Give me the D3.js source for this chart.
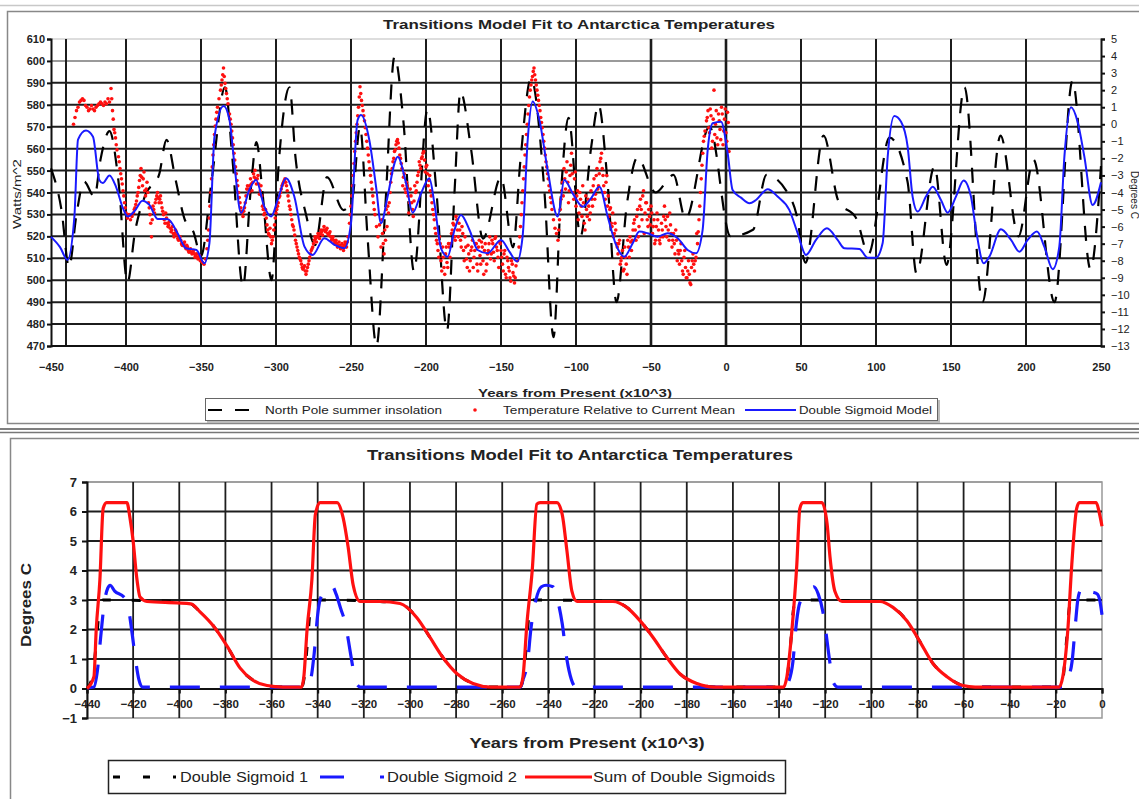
<!DOCTYPE html>
<html>
<head>
<meta charset="utf-8">
<script src="https://cdn.jsdelivr.net/npm/d3@7"></script>
<style>
  body { margin: 0; background: #fff; }
  svg { display: block; }
  text { font-family: "Liberation Sans", Arial, Helvetica, sans-serif; }
</style>
</head>
<body>
<svg id="chart" width="1139" height="799"></svg>
<script>
// ---------- top panel data ----------
const chartTitle = 'Transitions Model Fit to Antarctica Temperatures';
const topXTicks = [-450,-400,-350,-300,-250,-200,-150,-100,-50,0,50,100,150,200,250];
const topXGrid  = [-440,-400,-350,-300,-250,-200,-150,-100,-50,0,50,100,150,200];

// North Pole summer insolation (W/m^2)
const insolYears  = [-450,-443,-438,-433,-428,-421,-417,-411,-405,-399,-394,-387,-378,-373,-367,-361,-355,-350,-343,-334,-329,-322,-317,-313,-309,-303,-298,-291,-287,-280,-274,-266,-255,-249,-244,-239,-233,-227,-221,-215,-208,-199,-193,-186,-181,-177,-170,-162,-150,-142,-137,-130,-121,-115,-110,-105,-97,-90,-85,-79,-73,-66,-59,-47,-35,-27,-11,3,18,27,40,47,53,65,75,87,95,109,121,127,139,147,159,171,183,195,205,219,231,243,250];
const insolValues = [551,532,506,530,545,538,555,568,545,499,522,539,548,564,546,528,522,511,545,588,555,497,540,563,540,500,555,588,556,530,516,547,532,538,570,520,470,535,602,572,504,578,540,477,540,586,560,519,547,515,555,592,540,474,540,574,520,560,580,545,490,535,556,540,548,528,570,520,523,548,541,530,508,566,536,528,512,565,545,503,552,507,588,490,566,520,555,490,591,505,552];

// Temperature relative to current mean (deg C), one reading per kyr from -435
const tempFirstYear = -435;
const tempValues = [
  0.0,0.4,0.8,1.0,1.3,1.4,1.5,1.4,1.1,1.0,
  0.8,0.9,1.1,0.9,0.8,1.0,1.1,1.2,1.3,1.2,
  1.1,1.3,1.2,1.5,1.3,2.1,0.8,-0.3,-0.8,-1.5,
  -1.9,-2.6,-3.2,-3.9,-4.6,-5.2,-5.5,-5.3,-5.6,-5.4,
  -5.2,-4.9,-4.5,-4.0,-3.3,-2.6,-3.6,-2.8,-4.2,-3.4,
  -4.6,-5.3,-6.6,-4.8,-5.2,-4.4,-4.0,-4.6,-4.2,-4.9,
  -5.3,-5.8,-5.5,-6.0,-5.7,-6.3,-6.0,-6.6,-6.2,-6.5,
  -6.8,-6.6,-7.0,-7.1,-6.9,-7.3,-7.2,-7.5,-7.3,-7.6,
  -7.4,-7.8,-7.6,-7.9,-7.7,-8.0,-8.1,-8.2,-7.9,-7.3,
  -6.2,-4.8,-3.2,-1.8,-0.6,0.3,1.0,1.5,2.0,2.6,
  3.3,2.4,1.8,1.2,0.6,0.0,-0.8,-1.7,-2.5,-3.3,
  -4.0,-4.6,-5.1,-5.4,-4.9,-4.2,-3.6,-4.0,-3.2,-3.9,
  -2.9,-2.7,-3.5,-3.0,-4.1,-3.6,-4.8,-5.3,-5.0,-5.9,
  -6.4,-6.1,-7.0,-6.6,-5.9,-5.2,-4.8,-4.3,-4.0,-3.6,
  -3.4,-3.2,-3.6,-4.2,-4.8,-5.3,-5.9,-6.2,-6.8,-7.2,
  -7.6,-7.9,-8.2,-8.5,-8.3,-8.8,-8.4,-8.0,-7.6,-7.3,
  -7.0,-6.6,-6.9,-6.4,-6.7,-6.2,-6.5,-6.0,-6.3,-6.1,
  -6.5,-6.3,-6.8,-6.6,-7.0,-6.8,-7.2,-6.9,-7.3,-7.0,
  -7.4,-6.9,-7.2,-6.6,-5.8,-4.8,-3.6,-2.3,-1.0,0.0,
  1.0,2.2,1.4,0.8,0.2,-0.6,-1.4,-2.2,-3.0,-3.8,
  -4.6,-5.3,-6.0,-6.6,-5.9,-7.2,-6.4,-7.6,-6.8,-6.0,
  -5.2,-4.0,-2.9,-2.2,-1.6,-1.2,-0.9,-1.4,-2.0,-2.6,
  -3.1,-3.8,-3.4,-4.2,-4.6,-4.2,-5.0,-4.5,-4.0,-3.4,
  -2.8,-2.4,-2.0,-1.7,-2.1,-2.5,-2.9,-3.3,-3.9,-4.6,
  -5.3,-6.1,-6.8,-7.4,-6.6,-8.0,-7.2,-8.4,-7.6,-8.1,
  -7.0,-7.8,-6.4,-5.8,-6.6,-5.4,-6.2,-5.8,-6.8,-6.0,
  -7.4,-6.6,-7.9,-7.1,-8.6,-7.4,-6.8,-7.8,-7.0,-8.2,
  -7.2,-7.7,-6.9,-8.0,-7.4,-8.6,-7.6,-7.0,-7.9,-6.8,
  -7.5,-6.7,-7.2,-7.8,-6.9,-7.4,-8.2,-7.6,-8.8,-7.8,
  -8.4,-9.0,-8.0,-8.7,-9.3,-8.3,-8.0,-7.2,-6.0,-4.6,
  -3.2,-1.8,-0.6,0.6,1.6,2.3,2.8,3.3,2.6,2.0,
  1.4,0.8,0.1,-0.6,-1.4,-2.2,-2.9,-3.6,-4.3,-5.0,
  -5.6,-6.1,-6.4,-6.8,-5.6,-4.4,-3.4,-2.6,-3.8,-2.2,
  -4.6,-3.0,-1.7,-4.0,-3.2,-4.8,-3.9,-5.2,-4.4,-5.4,
  -4.6,-6.2,-5.0,-4.4,-5.6,-3.9,-4.8,-3.2,-4.1,-2.6,
  -3.6,-2.2,-1.7,-3.0,-4.0,-3.4,-4.8,-5.4,-4.9,-6.0,
  -6.6,-5.8,-7.0,-7.6,-6.8,-8.0,-7.4,-8.5,-7.8,-8.8,
  -7.2,-6.6,-7.4,-6.2,-5.6,-6.8,-5.0,-6.0,-4.4,-5.6,
  -3.9,-5.2,-4.6,-6.0,-5.4,-4.8,-6.4,-5.6,-6.8,-5.2,
  -6.2,-7.0,-5.8,-6.6,-4.8,-6.0,-5.4,-6.8,-5.9,-7.2,
  -6.4,-7.6,-6.8,-7.4,-8.2,-7.0,-8.6,-7.8,-8.4,-9.0,
  -8.0,-9.3,-8.4,-7.6,-8.6,-7.8,-7.0,-5.6,-4.0,-2.4,
  -1.0,-0.4,0.2,0.8,-0.5,0.5,-1.0,2.0,0.0,-0.8,
  0.6,-0.3,1.0,-1.2,0.3,-0.5,0.7,-1.6
];
// in-between readings (half-kyr) where the ice-core record is densest
const halfAStart = -394.5;
const tempHalfA = [
  -5.0,-4.7,-4.2,-3.7,-3.0,-3.1,-3.2,-3.9,-3.8,-4.0,
  -4.9,-5.8,-5.6,-5.0,-4.6,-4.2,-4.3,-4.4,-4.6,-5.1,
  -5.6,-5.2,-5.8,-5.9,-6.1,-6.2,-6.4,-6.4,-6.3,-6.7,
  -6.7,-6.8,-7.1,-7.0,-7.2,-7.1,-7.4,-7.4,-7.5,-7.5,
  -7.6,-7.7,-7.8,-7.8,-8.0
];
const halfBStart = -324.5;
const tempHalfB = [
  -4.3,-4.9,-5.2,-5.1,-4.6,-3.8,-3.8,-3.6,-3.5,-3.4,
  -3.1,-3.2,-3.2,-3.5,-3.9,-4.2,-5.0,-5.2,-5.5,-6.2,
  -6.5,-6.6,-6.8,-6.2,-5.5,-5.0,-4.6,-4.2,-3.8,-3.5,
  -3.3,-3.4,-3.9,-4.5,-5.0,-5.6,-6.0,-6.5,-7.0,-7.4,
  -7.8,-8.0,-8.4,-8.4,-8.6,-8.6,-8.2,-7.8,-7.4,-7.2,
  -6.8,-6.7,-6.6,-6.5,-6.4,-6.3,-6.2,-6.2,-6.2,-6.4,
  -6.4,-6.6,-6.7,-6.8,-6.9,-7.0,-7.1,-7.1,-7.2,-7.2,
  -7.1,-7.0,-6.9
];
const halfCStart = -229.5;
const tempHalfC = [
  -5.6,-7.0,-6.2,-5.0,-4.8,-4.6,-3.4,-2.6,-2.0,-1.5,
  -1.0,-1.1,-1.8,-2.3,-3.6,-2.9,-4.0,-3.6,-5.2,-3.8,
  -4.6,-5.4,-3.6,-3.9,-3.0,-2.2,-2.6,-1.9,-1.6,-2.8,
  -2.4,-3.6,-3.0,-4.2,-5.0,-5.6,-6.4,-7.0,-7.8,-7.0,
  -8.6,-7.8,-8.8,-7.2,-8.4,-7.2,-7.0,-6.2,-5.9,-6.8,
  -5.6,-6.6,-6.2,-7.2,-6.4,-8.0,-7.2,-8.4,-7.6,-8.0,
  -7.2,-8.4,-7.4,-7.0,-8.6,-6.8,-8.2,-7.2,-8.8,-7.0,
  -8.2,-7.4,-6.6,-7.6,-7.0,-8.0,-6.6,-7.4,-8.4,-7.0,
  -7.8,-8.6,-7.4,-9.0,-8.0,-8.6,-9.2,-8.2,-8.9,-9.0
];
const halfDStart = -111.5;
const tempHalfD = [
  -6.2,-5.0,-3.9,-4.2,-3.2,-2.8,-3.4,-3.9,-2.4,-2.9,
  -4.4,-2.8,-4.2,-5.6,-4.0,-4.8,-3.6,-5.8,-4.2,-5.4,
  -4.8,-5.2,-4.4,-3.6,-4.4,-3.0,-3.8,-2.9,-2.0,-2.6,
  -3.6,-4.4,-3.0,-4.2,-5.0,-5.8,-5.2,-6.4,-6.2,-7.2,
  -7.0,-8.2,-7.8,-8.6,-7.2,-8.2,-6.8,-7.8,-6.9,-6.8,
  -5.8,-6.2,-5.4,-6.6,-4.8,-5.0,-4.2,-6.4,-4.6,-5.6,
  -5.0,-5.9,-5.2,-6.0,-7.0,-6.0,-5.6,-6.8,-6.6,-6.2,
  -5.4,-5.6,-6.6,-6.2,-5.2,-6.4,-6.8,-7.0,-6.2,-8.0,
  -7.6,-7.4,-8.0,-8.8,-7.4,-9.0,-8.6,-8.8,-9.4,-8.0,
  -8.2,-8.0,-6.4
];
// extra readings on steep flanks and in the dense cluster near the present
const tempExtra = [
  [-409.5,1.5],[-408.5,0.3],[-407.5,-0.5],[-406.5,-1.2],[-404.5,-2.2],[-403.5,-2.9],[-402.5,-3.5],[-401.5,-4.2],[-400.5,-4.9],
  [-345.5,-6.8],[-344.5,-5.5],[-343.5,-4.0],[-342.5,-2.5],[-341.5,-1.2],[-340.5,-0.1],[-339.5,0.7],[-336.5,2.3],[-335.5,2.9],
  [-334.5,2.8],[-333.5,2.1],[-332.5,1.5],[-330.5,0.3],[-329.5,-0.4],[-328.5,-1.2],[-327.5,-2.1],[-326.5,-2.9],[-325.5,-3.6],
  [-250.5,-5.3],[-249.5,-4.2],[-248.5,-3.0],[-247.5,-1.6],[-246.5,-0.5],[-245.5,0.5],[-244.5,1.6],[-243.5,1.8],[-242.5,1.1],
  [-241.5,0.5],[-240.5,-0.2],[-239.5,-1.0],[-238.5,-1.8],[-237.5,-2.6],[-236.5,-3.4],[-235.5,-4.2],[-234.5,-5.0],
  [-137.5,-6.6],[-136.5,-5.3],[-135.5,-3.9],[-134.5,-2.5],[-133.5,-1.2],[-132.5,0.0],[-131.5,1.1],[-130.5,2.0],[-129.5,2.6],
  [-128.5,3.1],[-127.5,2.9],[-126.5,2.3],[-125.5,1.7],[-124.5,1.1],[-123.5,0.4],[-122.5,-0.2],[-121.5,-1.0],[-120.5,-1.8],
  [-119.5,-2.5],[-118.5,-3.2],[-117.5,-3.9],[-116.5,-4.6],
  [-18.5,-6.3],[-17.5,-4.8],[-16.5,-3.2],[-15.5,-1.7],[-14.5,-0.7],
  [-12.5,0.4],[-11.5,-0.2],[-10.5,0.9],[-9.5,-1.4],[-8.5,0.3],[-7.5,-0.6],[-6.5,0.8],[-5.5,-1.2],[-4.5,0.2],
  [-3.5,-0.9],[-2.5,0.6],[-1.5,-0.4],[-0.5,0.9],[0.5,-1.0],[1.5,0.1]
];

// Double sigmoid model (deg C)
const modelYears = [-450,-444,-439,-434.4,-432,-426.7,-422,-417.8,-415.5,-411,-406.7,-402,-398.9,-394.4,-389,-384.4,-378.9,-372,-365.6,-360,-353,-347.8,-344.4,-341,-334.9,-331,-327.8,-323.3,-317.8,-313.3,-307.8,-303.3,-298.9,-293.3,-287.8,-281,-275.6,-267.8,-261,-254.4,-250,-245.6,-243.3,-237.8,-233.3,-230,-225.6,-221,-218.9,-213.3,-208.9,-203.3,-197.8,-194.4,-190,-185.6,-181,-176.7,-171,-165.6,-158.9,-150,-144.4,-139.3,-135.6,-132.2,-128.9,-124.4,-118.9,-112.2,-107.8,-102.2,-95.6,-90,-84.4,-78.9,-73.3,-67.8,-62.2,-57.8,-52.2,-45.6,-38.9,-32.2,-25.6,-20,-15.6,-12.2,-8.9,-3.3,1.1,4.4,10,15.6,20,27.8,34.4,42.2,47.8,53.3,60,67.3,74.4,78.9,88.9,94.4,100,104.4,107.8,112.2,116.7,121.1,124.4,127.8,133.3,137.8,143.3,147.8,153.3,158.4,163.3,166.7,171.8,175.6,183.3,190,195.6,201.1,207.3,212.2,217.8,222.2,225.6,230,234.4,238.9,244.4,250];
const modelTemps = [-6.6,-7.2,-7.95,-5.4,-0.9,-0.37,-0.73,-3.27,-3.45,-3.0,-3.66,-4.93,-5.4,-5.1,-4.48,-4.73,-5.55,-5.57,-6.39,-7.27,-7.37,-8.15,-6.98,-0.73,1.07,0.25,-2.29,-5.2,-3.85,-3.27,-4.83,-5.41,-4.44,-3.17,-4.24,-7.17,-7.66,-6.68,-7.07,-7.27,-5.8,0.25,0.55,-0.92,-3.66,-5.8,-4.24,-2.29,-1.9,-3.46,-5.18,-4.05,-3.17,-4.63,-7.27,-7.76,-6.2,-5.32,-6.2,-7.37,-7.56,-6.78,-7.47,-8.05,-6.59,-0.92,1.33,0.25,-2.68,-5.41,-3.27,-4.05,-4.83,-4.34,-3.66,-5.41,-7.07,-7.76,-6.98,-6.29,-6.39,-6.59,-6.39,-6.68,-7.37,-7.56,-6.2,-1.5,0.06,0.15,-1.7,-3.85,-4.3,-4.63,-4.44,-3.81,-4.24,-5.02,-6.39,-7.66,-6.78,-6.1,-6.78,-7.27,-7.31,-7.82,-7.82,-6.98,-1.9,0.49,0.15,-1.31,-4.24,-5.12,-4.24,-3.66,-4.44,-5.18,-4.24,-3.3,-4.24,-6.2,-8.15,-7.76,-6.16,-6.78,-7.47,-6.78,-6.29,-7.17,-8.5,-7.17,-1.9,1.0,0.15,-1.9,-4.73,-3.4];

const topLegend = ['North Pole summer insolation', 'Temperature Relative to Current Mean', 'Double Sigmoid Model'];

// ---------- bottom panel data ----------
const botXTicks = [-440,-420,-400,-380,-360,-340,-320,-300,-280,-260,-240,-220,-200,-180,-160,-140,-120,-100,-80,-60,-40,-20,0];
const botYTicks = [-1,0,1,2,3,4,5,6,7];

const ds1Years  = [-440,-438,-436,-434.5,-433,-401,-395,-391,-385,-379,-373.7,-368,-362,-355,-347,-346,-344.5,-343,-341.5,-313,-304.3,-297,-291.3,-285.7,-279.6,-272.7,-265,-252.3,-251,-249.5,-248,-246.5,-212,-206,-200.3,-194.6,-188.6,-183,-175.6,-168,-138,-136.6,-135,-133.5,-132,-96.3,-90.6,-84.6,-79,-73.3,-67.2,-60.3,-55,-18.6,-17,-15.5,-14,-12.5,0];
const ds1Values = [0,0.3,1.5,2.8,3.0,2.95,2.87,2.6,2.1,1.4,0.7,0.28,0.1,0.05,0.05,0.3,1.5,2.8,3.0,2.95,2.88,2.4,1.73,1.05,0.5,0.17,0.05,0.05,0.3,1.5,2.8,3.0,2.95,2.75,2.3,1.73,1.05,0.5,0.17,0.05,0.05,0.3,1.5,2.8,3.0,2.95,2.75,2.3,1.6,0.85,0.4,0.1,0.05,0.05,0.3,1.5,2.8,3.0,3.0];

const ds2Years  = [-440,-437,-435.5,-434,-432.5,-431,-430,-428,-424,-422.5,-420.5,-419,-417.5,-416,-344,-343,-341.5,-340,-339,-336,-334,-332,-330,-328,-326,-324.5,-323,-321.5,-252,-251,-249,-247.6,-245.4,-243,-241,-238,-236,-234,-232,-230,-228,-137,-136,-134,-132.5,-131,-128,-125,-123,-121,-119.5,-118,-116.5,-114.5,-16,-15,-13,-11.5,-10.5,-9,-7.5,-5,-2,-1,0];
const ds2Values = [0.02,0.05,0.6,1.8,2.9,3.4,3.5,3.3,3.1,2.9,1.9,1.0,0.3,0.05,0.05,0.3,1.2,2.5,3.0,3.4,3.5,3.2,2.7,2.2,1.3,0.6,0.15,0.05,0.05,0.3,0.9,2.0,3.0,3.45,3.5,3.45,3.0,2.2,1.0,0.3,0.05,0.05,0.2,0.9,2.2,2.9,3.2,3.45,3.2,2.6,1.8,0.9,0.2,0.05,0.05,0.3,0.9,2.2,3.0,3.4,3.5,3.3,3.2,3.0,2.5];

const sumYears  = [-440,-437,-436,-434.4,-433,-431.5,-422.7,-421.4,-420,-418.5,-417,-414,-401,-395,-391,-385,-379,-373.7,-368,-362,-355,-347,-346,-344.6,-342.5,-341,-339,-331.6,-329,-326.8,-324.6,-321.6,-313,-304.3,-297,-291.3,-285.7,-279.6,-272.7,-265,-252.3,-251,-249.3,-247,-245,-243.6,-236.3,-234,-232,-229.8,-227.6,-212,-206,-200.3,-194.6,-188.6,-183,-175.6,-168,-138,-136.6,-134.4,-132.3,-131,-129.7,-121.4,-119.2,-117.9,-115.8,-112.7,-96.3,-90.6,-84.6,-79,-73.3,-67.2,-60.3,-55,-18.6,-17,-14.8,-13.1,-11,-9.8,-2.5,-1.3,0];
const sumValues = [0,0.4,2.0,3.7,6.1,6.3,6.3,5.8,5.0,3.8,3.1,2.95,2.9,2.87,2.6,2.1,1.4,0.7,0.28,0.1,0.05,0.05,0.4,2.0,3.7,5.9,6.3,6.3,5.8,4.8,3.5,2.95,2.95,2.88,2.4,1.73,1.05,0.5,0.17,0.05,0.05,0.4,2.2,4.0,6.25,6.3,6.3,5.9,4.7,3.3,2.95,2.95,2.75,2.3,1.73,1.05,0.5,0.17,0.05,0.05,0.4,2.0,4.2,6.1,6.3,6.3,5.6,4.45,3.3,2.95,2.95,2.75,2.3,1.6,0.85,0.4,0.1,0.05,0.05,0.4,2.0,4.2,6.1,6.3,6.3,6.0,5.5];

const botLegend = ['Double Sigmoid 1', 'Double Sigmoid 2', 'Sum of Double Sigmoids'];

// ---------- drawing ----------
const svg = d3.select('#chart');
const zip = (xs, ys) => xs.map((x, i) => [x, ys[i]]);
const fromStart = (start, vals) => vals.map((t, i) => [start + i, t]);
const fit = (sel, len) => sel.attr('textLength', len).attr('lengthAdjust', 'spacingAndGlyphs');

// outer frames
svg.append('line').attr('x1', 0).attr('x2', 1139).attr('y1', 5.5).attr('y2', 5.5).attr('stroke', '#c8c8c8').attr('stroke-width', 1.5);
svg.append('rect').attr('x', 7.5).attr('y', 11.5).attr('width', 1150).attr('height', 412)
  .attr('fill', '#fff').attr('stroke', '#888').attr('stroke-width', 1.5);
svg.append('line').attr('x1', 0).attr('x2', 1139).attr('y1', 429).attr('y2', 429).attr('stroke', '#555').attr('stroke-width', 1.5);
svg.append('line').attr('x1', 0).attr('x2', 1139).attr('y1', 432.5).attr('y2', 432.5).attr('stroke', '#777').attr('stroke-width', 1.5);
svg.append('rect').attr('x', 10.5).attr('y', 438.5).attr('width', 1150).attr('height', 400)
  .attr('fill', '#fff').attr('stroke', '#888').attr('stroke-width', 1.5);

// ===== top panel =====
const xT  = d3.scaleLinear().domain([-450, 250]).range([51, 1101]);
const yW  = d3.scaleLinear().domain([470, 610]).range([346, 39]);
const yC  = d3.scaleLinear().domain([-13, 5]).range([346, 39]);
const upper = svg.append('g');

upper.selectAll('line.hgrid').data(d3.range(480, 611, 10)).join('line')
  .attr('x1', 51).attr('x2', 1101).attr('y1', d => yW(d)).attr('y2', d => yW(d))
  .attr('stroke', d => d === 600 ? '#9a9a9a' : d === 610 ? '#bbb' : '#1c1c1c')
  .attr('stroke-width', d => d === 610 ? 1 : 2);
upper.selectAll('line.vgrid').data(topXGrid).join('line')
  .attr('x1', d => xT(d)).attr('x2', d => xT(d)).attr('y1', 39).attr('y2', 346)
  .attr('stroke', '#1c1c1c').attr('stroke-width', d => (d === 0 || d === -50) ? 2.6 : 2);
upper.append('line').attr('x1', 51).attr('x2', 1101).attr('y1', 346).attr('y2', 346).attr('stroke', '#111').attr('stroke-width', 2);

const axL = upper.append('g').attr('transform', 'translate(51,0)')
  .call(d3.axisLeft(yW).tickValues(d3.range(470, 611, 10)).tickSize(4).tickPadding(2));
const axR = upper.append('g').attr('transform', 'translate(1101,0)')
  .call(d3.axisRight(yC).tickValues(d3.range(-13, 6, 1)).tickSize(4).tickPadding(6));
const axB = upper.append('g').attr('transform', 'translate(0,346)')
  .call(d3.axisBottom(xT).tickValues(topXTicks).tickSize(0).tickPadding(17));
axB.select('.domain').remove();
[axL, axR].forEach(a => {
  a.select('.domain').attr('stroke', '#111').attr('stroke-width', 2);
  a.selectAll('.tick line').attr('stroke', '#111').attr('stroke-width', 2);
});
[axL, axR, axB].forEach(a => a.selectAll('text')
  .attr('font-size', 11).attr('font-weight', 'bold').attr('fill', '#222')
  .style('font-family', '"Liberation Sans", Arial, sans-serif'));
axR.selectAll('text').attr('font-weight', 'normal');

// insolation (left axis)
upper.append('path').datum(zip(insolYears, insolValues))
  .attr('d', d3.line().x(d => xT(d[0])).y(d => yW(d[1])).curve(d3.curveMonotoneX))
  .attr('fill', 'none').attr('stroke', '#000').attr('stroke-width', 2.2).attr('stroke-dasharray', '15,12');

// temperature points (right axis)
const tempPts = fromStart(tempFirstYear, tempValues)
  .concat(fromStart(halfAStart, tempHalfA), fromStart(halfBStart, tempHalfB),
          fromStart(halfCStart, tempHalfC), fromStart(halfDStart, tempHalfD), tempExtra);
upper.selectAll('circle.temp').data(tempPts).join('circle')
  .attr('cx', d => xT(d[0])).attr('cy', d => yC(d[1])).attr('r', 1.8).attr('fill', '#ff1010');

// model (right axis)
upper.append('path').datum(zip(modelYears, modelTemps))
  .attr('d', d3.line().x(d => xT(d[0])).y(d => yC(d[1])).curve(d3.curveMonotoneX))
  .attr('fill', 'none').attr('stroke', '#1a1aff').attr('stroke-width', 2);

// titles
fit(upper.append('text').attr('x', 579).attr('y', 29).attr('text-anchor', 'middle')
  .attr('font-size', 13).attr('font-weight', 'bold').attr('fill', '#222').text(chartTitle), 392);
fit(upper.append('text').attr('x', 575).attr('y', 397).attr('text-anchor', 'middle')
  .attr('font-size', 11).attr('font-weight', 'bold').attr('fill', '#222').text('Years from Present (x10^3)'), 194);
fit(upper.append('text').attr('transform', 'translate(21,194) rotate(-90)').attr('text-anchor', 'middle')
  .attr('font-size', 10).attr('fill', '#222').text('Watts/m^2'), 70);
upper.append('text').attr('transform', 'translate(1131,195) rotate(90)').attr('text-anchor', 'middle')
  .attr('font-size', 10).attr('fill', '#222').text('Degrees C');

// top legend
const lg = upper.append('g');
lg.append('rect').attr('x', 207).attr('y', 400).attr('width', 733).attr('height', 23).attr('fill', '#bbb');
lg.append('rect').attr('x', 205.5).attr('y', 398.5).attr('width', 732).attr('height', 22)
  .attr('fill', '#fff').attr('stroke', '#666').attr('stroke-width', 1);
lg.append('line').attr('x1', 208).attr('x2', 256).attr('y1', 410).attr('y2', 410)
  .attr('stroke', '#000').attr('stroke-width', 2.2).attr('stroke-dasharray', '14,13');
lg.append('circle').attr('cx', 475).attr('cy', 410).attr('r', 1.8).attr('fill', '#ff1010');
lg.append('line').attr('x1', 745).attr('x2', 796).attr('y1', 410).attr('y2', 410).attr('stroke', '#1a1aff').attr('stroke-width', 2);
[[265, 177], [503, 232], [799, 133]].forEach(([x, w], i) => {
  fit(lg.append('text').attr('x', x).attr('y', 414).attr('font-size', 10.5).attr('fill', '#222').text(topLegend[i]), w);
});

// ===== bottom panel =====
const xB = d3.scaleLinear().domain([-440, 0]).range([87, 1102]);
const yB = d3.scaleLinear().domain([-1, 7]).range([718, 482]);
const lower = svg.append('g');

lower.append('rect').attr('x', 87).attr('y', 482).attr('width', 1015).attr('height', 236)
  .attr('fill', '#fff').attr('stroke', '#999').attr('stroke-width', 1.5);
lower.selectAll('line.hg').data(d3.range(1, 8)).join('line')
  .attr('x1', 87).attr('x2', 1102).attr('y1', d => yB(d)).attr('y2', d => yB(d))
  .attr('stroke', d => d === 7 ? '#999' : '#1e1e1e').attr('stroke-width', d => d === 7 ? 1.5 : 1.8);
lower.selectAll('line.vg').data(botXTicks.slice(1, -1)).join('line')
  .attr('x1', d => xB(d)).attr('x2', d => xB(d)).attr('y1', 482).attr('y2', 718)
  .attr('stroke', '#1e1e1e').attr('stroke-width', 1.8);

const bxAxis = lower.append('g').attr('transform', `translate(0,${yB(0)})`)
  .call(d3.axisBottom(xB).tickValues(botXTicks).tickSize(5).tickPadding(6));
const byAxis = lower.append('g').attr('transform', 'translate(87,0)')
  .call(d3.axisLeft(yB).tickValues(botYTicks).tickSize(5).tickPadding(5));
[bxAxis, byAxis].forEach(a => {
  a.select('.domain').attr('stroke', '#111').attr('stroke-width', 2);
  a.selectAll('.tick line').attr('stroke', '#111').attr('stroke-width', 2);
});
bxAxis.selectAll('text').attr('font-size', 11.5).attr('font-weight', 'bold').attr('fill', '#222');
byAxis.selectAll('text').attr('font-size', 13).attr('font-weight', 'bold').attr('fill', '#222');

const lineB = d3.line().x(d => xB(d[0])).y(d => yB(d[1])).curve(d3.curveMonotoneX);
lower.append('path').datum(zip(ds1Years, ds1Values)).attr('d', lineB)
  .attr('fill', 'none').attr('stroke', '#000').attr('stroke-width', 3).attr('stroke-dasharray', '9,21');
lower.append('path').datum(zip(ds2Years, ds2Values)).attr('d', lineB)
  .attr('fill', 'none').attr('stroke', '#1a1aff').attr('stroke-width', 3.2).attr('stroke-dasharray', '30,20');
lower.append('path').datum(zip(sumYears, sumValues)).attr('d', lineB)
  .attr('fill', 'none').attr('stroke', '#ff1010').attr('stroke-width', 3.2);

fit(lower.append('text').attr('x', 580).attr('y', 460).attr('text-anchor', 'middle')
  .attr('font-size', 15).attr('font-weight', 'bold').attr('fill', '#222').text(chartTitle), 426);
fit(lower.append('text').attr('x', 587).attr('y', 748).attr('text-anchor', 'middle')
  .attr('font-size', 15).attr('font-weight', 'bold').attr('fill', '#222').text('Years from Present (x10^3)'), 235);
fit(lower.append('text').attr('transform', 'translate(31,605) rotate(-90)').attr('text-anchor', 'middle')
  .attr('font-size', 14).attr('font-weight', 'bold').attr('fill', '#222').text('Degrees C'), 84);

// bottom legend
const lb = lower.append('g');
lb.append('rect').attr('x', 108.5).attr('y', 760.5).attr('width', 677).attr('height', 33)
  .attr('fill', '#fff').attr('stroke', '#222').attr('stroke-width', 1.5);
lb.append('line').attr('x1', 113).attr('x2', 176).attr('y1', 777).attr('y2', 777)
  .attr('stroke', '#000').attr('stroke-width', 3).attr('stroke-dasharray', '7,23');
lb.append('line').attr('x1', 320).attr('x2', 384).attr('y1', 777).attr('y2', 777)
  .attr('stroke', '#1a1aff').attr('stroke-width', 3.2).attr('stroke-dasharray', '24,36');
lb.append('line').attr('x1', 525).attr('x2', 592).attr('y1', 777).attr('y2', 777)
  .attr('stroke', '#ff1010').attr('stroke-width', 3.2);
[[180, 128], [387, 130], [593, 182]].forEach(([x, w], i) => {
  fit(lb.append('text').attr('x', x).attr('y', 782).attr('font-size', 14).attr('fill', '#222').text(botLegend[i]), w);
});
</script>
</body>
</html>
